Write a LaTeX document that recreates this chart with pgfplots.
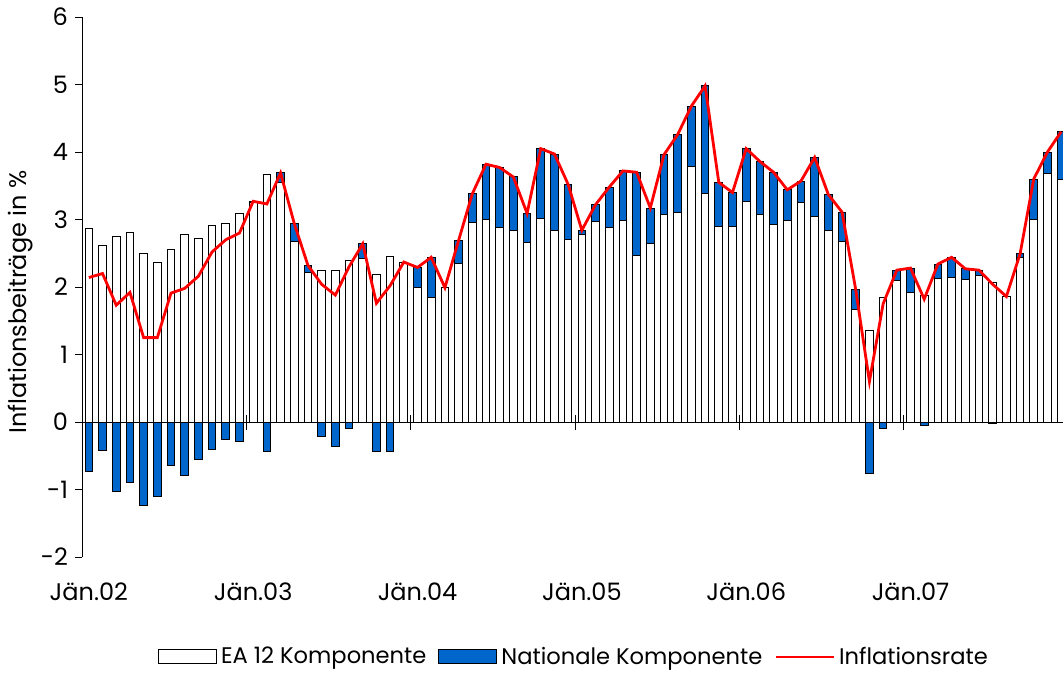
\documentclass[border=0pt]{standalone}
\usepackage{pgfplots}
\pgfplotsset{compat=1.18}
\usepackage{pgfplotstable}
\usepackage{fontspec}
\setmainfont{Poppins}
\definecolor{natblue}{RGB}{0,102,204}

% monthly contributions, Jan 2002 = 0
\pgfplotstableread{
m ea nat rate
0 2.87 -0.74 2.14
1 2.62 -0.42 2.20
2 2.75 -1.03 1.73
3 2.81 -0.90 1.92
4 2.49 -1.24 1.25
5 2.37 -1.11 1.25
6 2.55 -0.65 1.91
7 2.78 -0.79 1.98
8 2.72 -0.55 2.16
9 2.91 -0.40 2.52
10 2.94 -0.26 2.70
11 3.09 -0.29 2.80
12 3.25 0.02 3.27
13 3.67 -0.44 3.23
14 3.55 0.14 3.69
15 2.67 0.27 2.94
16 2.22 0.10 2.32
17 2.24 -0.21 2.04
18 2.24 -0.36 1.88
19 2.39 -0.09 2.30
20 2.42 0.22 2.64
21 2.19 -0.43 1.76
22 2.45 -0.43 2.02
23 2.37 0.00 2.37
24 1.99 0.30 2.29
25 1.84 0.60 2.44
26 1.99 0.00 1.99
27 2.35 0.34 2.69
28 2.95 0.43 3.38
29 3.00 0.82 3.82
30 2.88 0.89 3.77
31 2.83 0.80 3.63
32 2.66 0.43 3.09
33 3.02 1.03 4.05
34 2.83 1.14 3.97
35 2.71 0.81 3.52
36 2.78 0.06 2.84
37 2.97 0.25 3.22
38 2.88 0.60 3.48
39 2.99 0.73 3.72
40 2.46 1.24 3.70
41 2.65 0.52 3.17
42 3.08 0.88 3.96
43 3.11 1.15 4.26
44 3.79 0.89 4.68
45 3.39 1.59 4.98
46 2.90 0.65 3.55
47 2.90 0.50 3.40
48 3.26 0.79 4.05
49 3.07 0.79 3.86
50 2.92 0.78 3.70
51 2.99 0.45 3.44
52 3.25 0.32 3.57
53 3.04 0.88 3.92
54 2.83 0.54 3.37
55 2.68 0.43 3.11
56 1.67 0.29 1.96
57 1.36 -0.76 0.60
58 1.84 -0.09 1.75
59 2.09 0.16 2.25
60 1.92 0.36 2.28
61 1.87 -0.05 1.82
62 2.13 0.21 2.34
63 2.14 0.30 2.44
64 2.11 0.16 2.27
65 2.17 0.08 2.25
66 2.06 -0.02 2.04
67 1.86 0.00 1.86
68 2.43 0.06 2.49
69 3.00 0.60 3.60
70 3.68 0.32 4.00
71 3.60 0.70 4.30
}\hicp

\begin{document}
\begin{tikzpicture}
\useasboundingbox (-41pt,-59pt) rectangle (490.5pt,278.5pt);
\begin{axis}[
  at={(0,0)}, anchor=south west,
  scale only axis, width=493pt, height=270pt,
  xmin=-0.5, xmax=71.5, ymin=-2, ymax=6,
  axis y line*=left, axis x line*=bottom,
  x axis line style={draw=none},
  xtick={0,12,24,36,48,60},
  xticklabels={Jän.02,Jän.03,Jän.04,Jän.05,Jän.06,Jän.07},
  major x tick style={draw=none},
  ytick={-2,-1,...,6},
  tick align=outside, major tick length=3.5pt,
  tick style={black, line width=0.5pt},
  y axis line style={black, line width=0.5pt},
  font=\fontsize{12}{14}\selectfont,
  /pgf/number format/assume math mode=true,
  x tick label style={yshift=-6pt},
  ylabel={Inflationsbeiträge in \%},
  every axis y label/.style={at={(axis description cs:-0.062,0.472)}, rotate=90, anchor=center},
  legend style={at={(axis description cs:0.5,-0.185)}, anchor=center, draw=none, fill=none,
    legend columns=3, /tikz/every even column/.append style={column sep=4pt},
    font=\fontsize{11.3}{13}\selectfont},
]
\addplot[ybar, bar width=0.56, bar shift=0pt, fill=natblue, draw=black, line width=0.5pt, forget plot]
  table[x=m, y expr={ifthenelse(\thisrow{nat}>0, \thisrow{ea}+\thisrow{nat}, \thisrow{nat})}] {\hicp};
\addplot[ybar, bar width=0.56, bar shift=0pt, fill=white, draw=black, line width=0.5pt, forget plot]
  table[x=m, y=ea] {\hicp};
\draw[black, line width=0.5pt] (axis cs:-0.5,0) -- (axis cs:71.5,0);
\pgfplotsinvokeforeach{-0.5,11.5,23.5,35.5,47.5,59.5}{
  \draw[black, line width=0.5pt] ([yshift=3.5pt]axis cs:#1,0) -- ([yshift=-4pt]axis cs:#1,0);
}
\addplot[red, line width=1.4pt, forget plot] table[x=m, y=rate] {\hicp};

\addlegendimage{legend image code/.code={\draw[fill=white, draw=black, line width=0.5pt] (0pt,-3.5pt) rectangle (29pt,3.5pt);}}
\addlegendentry{EA 12 Komponente}
\addlegendimage{legend image code/.code={\draw[fill=natblue, draw=black, line width=0.5pt] (0pt,-3.5pt) rectangle (29pt,3.5pt);}}
\addlegendentry{Nationale Komponente}
\addlegendimage{legend image code/.code={\draw[red, line width=1.4pt] (0pt,0pt) -- (29pt,0pt);}}
\addlegendentry{Inflationsrate}
\end{axis}
\end{tikzpicture}
\end{document}
